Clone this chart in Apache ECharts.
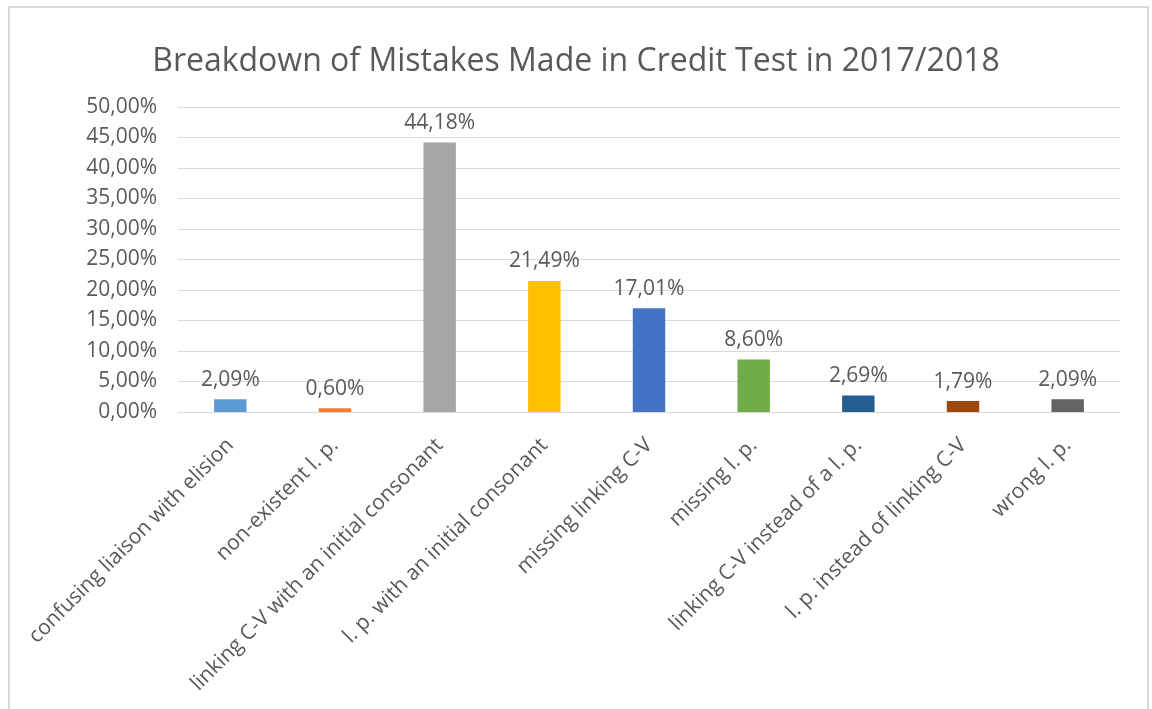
<!DOCTYPE html>
<html>
<head>
<meta charset="utf-8">
<script src="https://cdn.jsdelivr.net/npm/echarts@6/dist/echarts.min.js"></script>
<style>
  html, body { margin: 0; padding: 0; background: #ffffff; }
  #chart { width: 1152px; height: 709px; }
</style>
</head>
<body>
<div id="chart"></div>
<script>
// Mistake categories and their share of all mistakes (percent)
const categories = [
  'confusing liaison with elision',
  'non-existent l. p.',
  'linking C-V with an initial consonant',
  'l. p. with an initial consonant',
  'missing linking C-V',
  'missing l. p.',
  'linking C-V instead of a l. p.',
  'l. p. instead of linking C-V',
  'wrong l. p.'
];
const shares = [2.09, 0.60, 44.18, 21.49, 17.01, 8.60, 2.69, 1.79, 2.09];
const barColors = ['#5B9BD5', '#ED7D31', '#A5A5A5', '#FFC000', '#4472C4', '#70AD47', '#255E91', '#9E480E', '#636363'];

const fmtPct = v => v.toFixed(2).replace('.', ',') + '%';
const textColor = '#595959';
const fontFamily = '"Open Sans", "Noto Sans", sans-serif';

const chart = echarts.init(document.getElementById('chart'));
chart.setOption({
  animation: false,
  backgroundColor: '#ffffff',
  textStyle: { fontFamily: fontFamily, color: textColor },
  title: {
    text: 'Breakdown of Mistakes Made in Credit Test in 2017/2018',
    left: 'center',
    top: 41,
    textStyle: { fontFamily: fontFamily, fontSize: 32, fontWeight: 'normal', color: textColor }
  },
  graphic: [{
    type: 'rect',
    shape: { x: 9, y: 7, width: 1139, height: 720 },
    style: { fill: 'none', stroke: '#d9d9d9', lineWidth: 2 },
    silent: true
  }],
  grid: { left: 178, right: 32, top: 107, bottom: 297, containLabel: false },
  xAxis: {
    type: 'category',
    data: categories,
    axisLine: { show: true, lineStyle: { color: '#d9d9d9', width: 1 } },
    axisTick: { show: false },
    axisLabel: {
      rotate: 45,
      interval: 0,
      margin: 30,
      fontSize: 21,
      color: textColor,
      fontFamily: fontFamily
    }
  },
  yAxis: {
    type: 'value',
    min: 0,
    max: 50,
    interval: 5,
    axisLine: { show: false },
    axisTick: { show: false },
    splitLine: { lineStyle: { color: '#d9d9d9', width: 1 } },
    axisLabel: {
      formatter: v => fmtPct(v),
      fontSize: 21,
      margin: 21,
      color: textColor,
      fontFamily: fontFamily
    }
  },
  series: [{
    type: 'bar',
    data: shares.map((v, i) => ({ value: v, itemStyle: { color: barColors[i] } })),
    barWidth: '31%',
    label: {
      show: true,
      position: 'top',
      distance: 9,
      formatter: p => fmtPct(p.value),
      fontSize: 21,
      color: textColor,
      fontFamily: fontFamily
    }
  }]
});
</script>
</body>
</html>
